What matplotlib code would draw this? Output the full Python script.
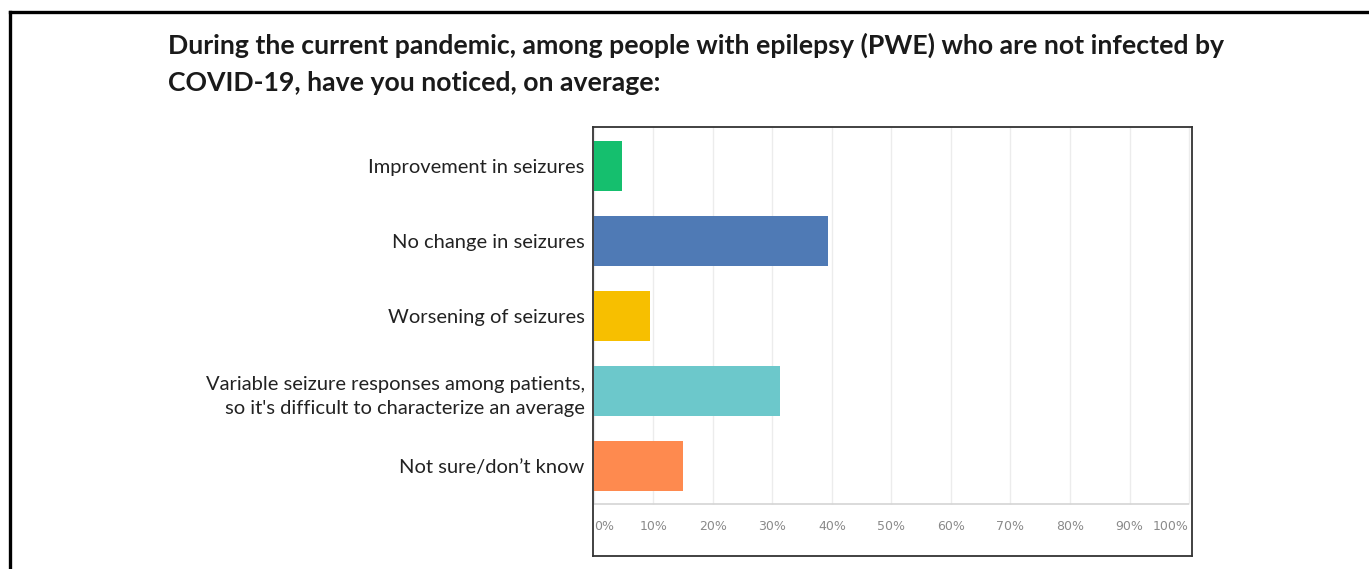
import matplotlib.pyplot as plt
from matplotlib.lines import Line2D

categories = [
    "Improvement in seizures",
    "No change in seizures",
    "Worsening of seizures",
    "Variable seizure responses among patients,\nso it's difficult to characterize an average",
    "Not sure/don\u2019t know",
]
percent = [4.8, 39.4, 9.4, 31.3, 15.0]
colors = ["#15bf6e", "#4f7ab5", "#f7bf00", "#6cc8cb", "#fe8a4f"]
ticks = [0, 10, 20, 30, 40, 50, 60, 70, 80, 90, 100]
tick_labels = [f"{t}%" for t in ticks]
title_lines = [
    "During the current pandemic, among people with epilepsy (PWE) who are not infected by",
    "COVID-19, have you noticed, on average:",
]

W, H = 1369, 569
fig = plt.figure(figsize=(W / 100, H / 100), dpi=100)
fig.patch.set_facecolor("white")

# frame around the panel (left and top edges only)
fig.add_artist(Line2D([10 / W, 10 / W], [0, 1 - 12 / H], color="black", lw=2.4,
                      solid_capstyle="projecting"))
fig.add_artist(Line2D([10 / W, 1], [1 - 12 / H, 1 - 12 / H], color="black", lw=2.4,
                      solid_capstyle="projecting"))

for i, line in enumerate(title_lines):
    fig.text(168 / W, 1 - (45 + 38 * i) / H, line, fontsize=19.15, fontweight="bold",
             family="Lato", color="#1a1a1a", va="center", ha="left")

left, right, top, bottom = 593, 1192, 127, 556
ax = fig.add_axes([left / W, 1 - bottom / H, (right - left) / W, (bottom - top) / H])

y = list(range(len(categories)))
ax.set_ylim(5.2, -0.52)
ax.set_xlim(-0.15, 100.5)

# light vertical gridlines over the bar region only
ax.vlines(ticks, -0.52, 4.5, color="#ececec", lw=1, zorder=0)
ax.hlines(4.5, 0, 100, color="#d4d4d4", lw=1.2, zorder=1)

ax.barh(y, percent, height=0.66, color=colors, zorder=2)

for i, (t, lab) in enumerate(zip(ticks, tick_labels)):
    ha = "center"
    if i == 0:
        ha = "left"
    elif i == len(ticks) - 1:
        ha = "right"
    ax.text(t, 4.8, lab, ha=ha, va="center", fontsize=9,
            family="DejaVu Sans", color="#8a8a8a", clip_on=True)

ax.set_xticks([])
ax.set_yticks(y)
ax.set_yticklabels(categories, family="Lato", fontsize=14.5, color="#222222",
                   linespacing=1.55)
ax.tick_params(axis="y", length=0, pad=6)
for lab in ax.get_yticklabels():
    lab.set_horizontalalignment("right")
    lab.set_multialignment("right")

for s in ax.spines.values():
    s.set_color("#333333")
    s.set_linewidth(1.3)

fig.savefig("out.png", dpi=100)
